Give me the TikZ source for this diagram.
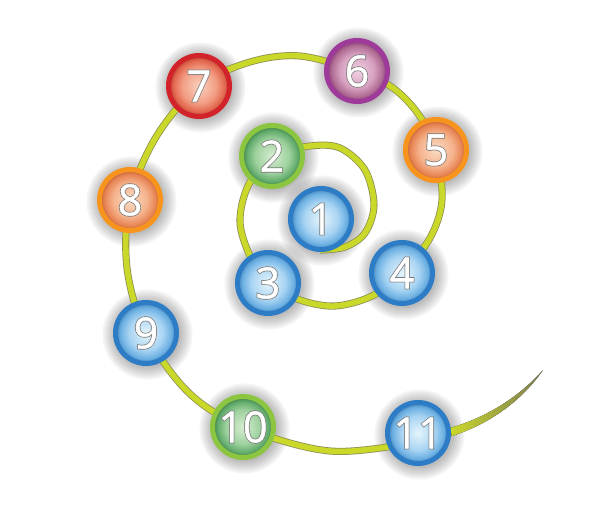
\documentclass[tikz,border=0pt]{standalone}
\usepackage{tikz}
\usepackage{fontspec}
\newfontfamily\numfont{Open Sans}[FakeBold=1]
\newfontfamily\numedgefont{Open Sans}[FakeBold=4.5]

\definecolor{spiral}{HTML}{CAD82A}
\definecolor{spiraledge}{HTML}{8E8F52}
\definecolor{tailend}{HTML}{7D7B55}
\definecolor{numedge}{HTML}{7A7A7A}
\definecolor{bluerim}{HTML}{2D7CC6}
\definecolor{greenrim}{HTML}{8CC540}
\definecolor{orangerim}{HTML}{F7941D}
\definecolor{redrim}{HTML}{D2232A}
\definecolor{purplerim}{HTML}{9E3A9A}

\pgfdeclarelayer{glow}
\pgfdeclarelayer{line}
\pgfsetlayers{glow,line,main}

\newcommand\bulbshading[6]{\pgfdeclareradialshading{#1}{\pgfpointorigin}%
  {rgb(0bp)=(#2); rgb(14bp)=(#3); rgb(21bp)=(#4); rgb(24bp)=(#5); rgb(25bp)=(#6); rgb(50bp)=(#6)}}
\bulbshading{bulbblue}{0.90,0.96,0.99}{0.66,0.83,0.95}{0.42,0.69,0.89}{0.32,0.55,0.75}{0.28,0.40,0.52}
\bulbshading{bulbgreen}{0.84,0.93,0.82}{0.62,0.82,0.62}{0.38,0.67,0.42}{0.26,0.52,0.30}{0.20,0.36,0.22}
\bulbshading{bulborange}{0.98,0.86,0.77}{0.96,0.70,0.55}{0.91,0.52,0.33}{0.78,0.40,0.24}{0.55,0.30,0.19}
\bulbshading{bulbred}{0.98,0.82,0.75}{0.95,0.62,0.52}{0.89,0.41,0.31}{0.76,0.28,0.22}{0.54,0.20,0.16}
\bulbshading{bulbpurple}{0.94,0.82,0.89}{0.84,0.63,0.75}{0.69,0.42,0.58}{0.55,0.28,0.46}{0.40,0.20,0.34}

\newcommand\bulbnum[1]{\rlap{\numedgefont\textcolor{numedge}{#1}}#1}

\begin{document}
\begin{tikzpicture}[x=1pt, y=-1pt,
    main/.style = {draw, circle, line width=5pt, minimum size=61pt, inner sep=0pt,
      text=white, font=\numfont\fontsize{43}{43}\selectfont},
    bluebulb/.style = {main, draw=bluerim, shading=bulbblue},
    greenbulb/.style = {main, draw=greenrim, shading=bulbgreen},
    orangebulb/.style = {main, draw=orangerim, shading=bulborange},
    redbulb/.style = {main, draw=redrim, shading=bulbred},
    purplebulb/.style = {main, draw=purplerim, shading=bulbpurple}]
\useasboundingbox (0,0) rectangle (600,504);

\node[bluebulb] (1) at (321,219) {\bulbnum{1}};
\node[greenbulb] (2) at (272,156) {\bulbnum{2}};
\node[bluebulb] (3) at (268,283) {\bulbnum{3}};
\node[bluebulb] (4) at (402,273) {\bulbnum{4}};
\node[orangebulb] (5) at (436,150) {\bulbnum{5}};
\node[purplebulb] (6) at (357,71) {\bulbnum{6}};
\node[redbulb] (7) at (199,86) {\bulbnum{7}};
\node[orangebulb] (8) at (130,200) {\bulbnum{8}};
\node[bluebulb] (9) at (146,333) {\bulbnum{9}};
\node[greenbulb] (10) at (243,427) {\bulbnum{10}};
\node[bluebulb] (11) at (418,433) {\bulbnum{11}};

\begin{pgfonlayer}{glow}
\foreach \n in {1,...,11}
  \foreach \r in {33,35,...,45}
    \fill[black, opacity=0.045] ([shift={(1.5,1.5)}]\n.center) circle (\r pt);
\end{pgfonlayer}

\begin{pgfonlayer}{line}
\draw[draw=spiraledge, line width=0.8pt, double=spiral, double distance=5.5pt]
  plot[smooth, tension=0.55] coordinates {(320,250) (345,247) (365,233) (374,205)
    (365,170) (340,148) (310,146) (2) (248,186) (240,222) (250,256) (3) (300,300)
    (335,306) (372,296) (4) (430,238) (442,200) (5) (419,115) (393,88) (6) (300,56)
    (250,62) (7) (156,137) (8) (127,268) (9) (188,392) (10) (330,451)
    ([yshift=-9pt]11.center) (452,432)};
\fill[left color=spiral, right color=tailend]
  (450,428) .. controls (488,417) and (520,396) .. (543,370)
  .. controls (523,399) and (492,423) .. (452,436) -- cycle;
\end{pgfonlayer}
\end{tikzpicture}
\end{document}
